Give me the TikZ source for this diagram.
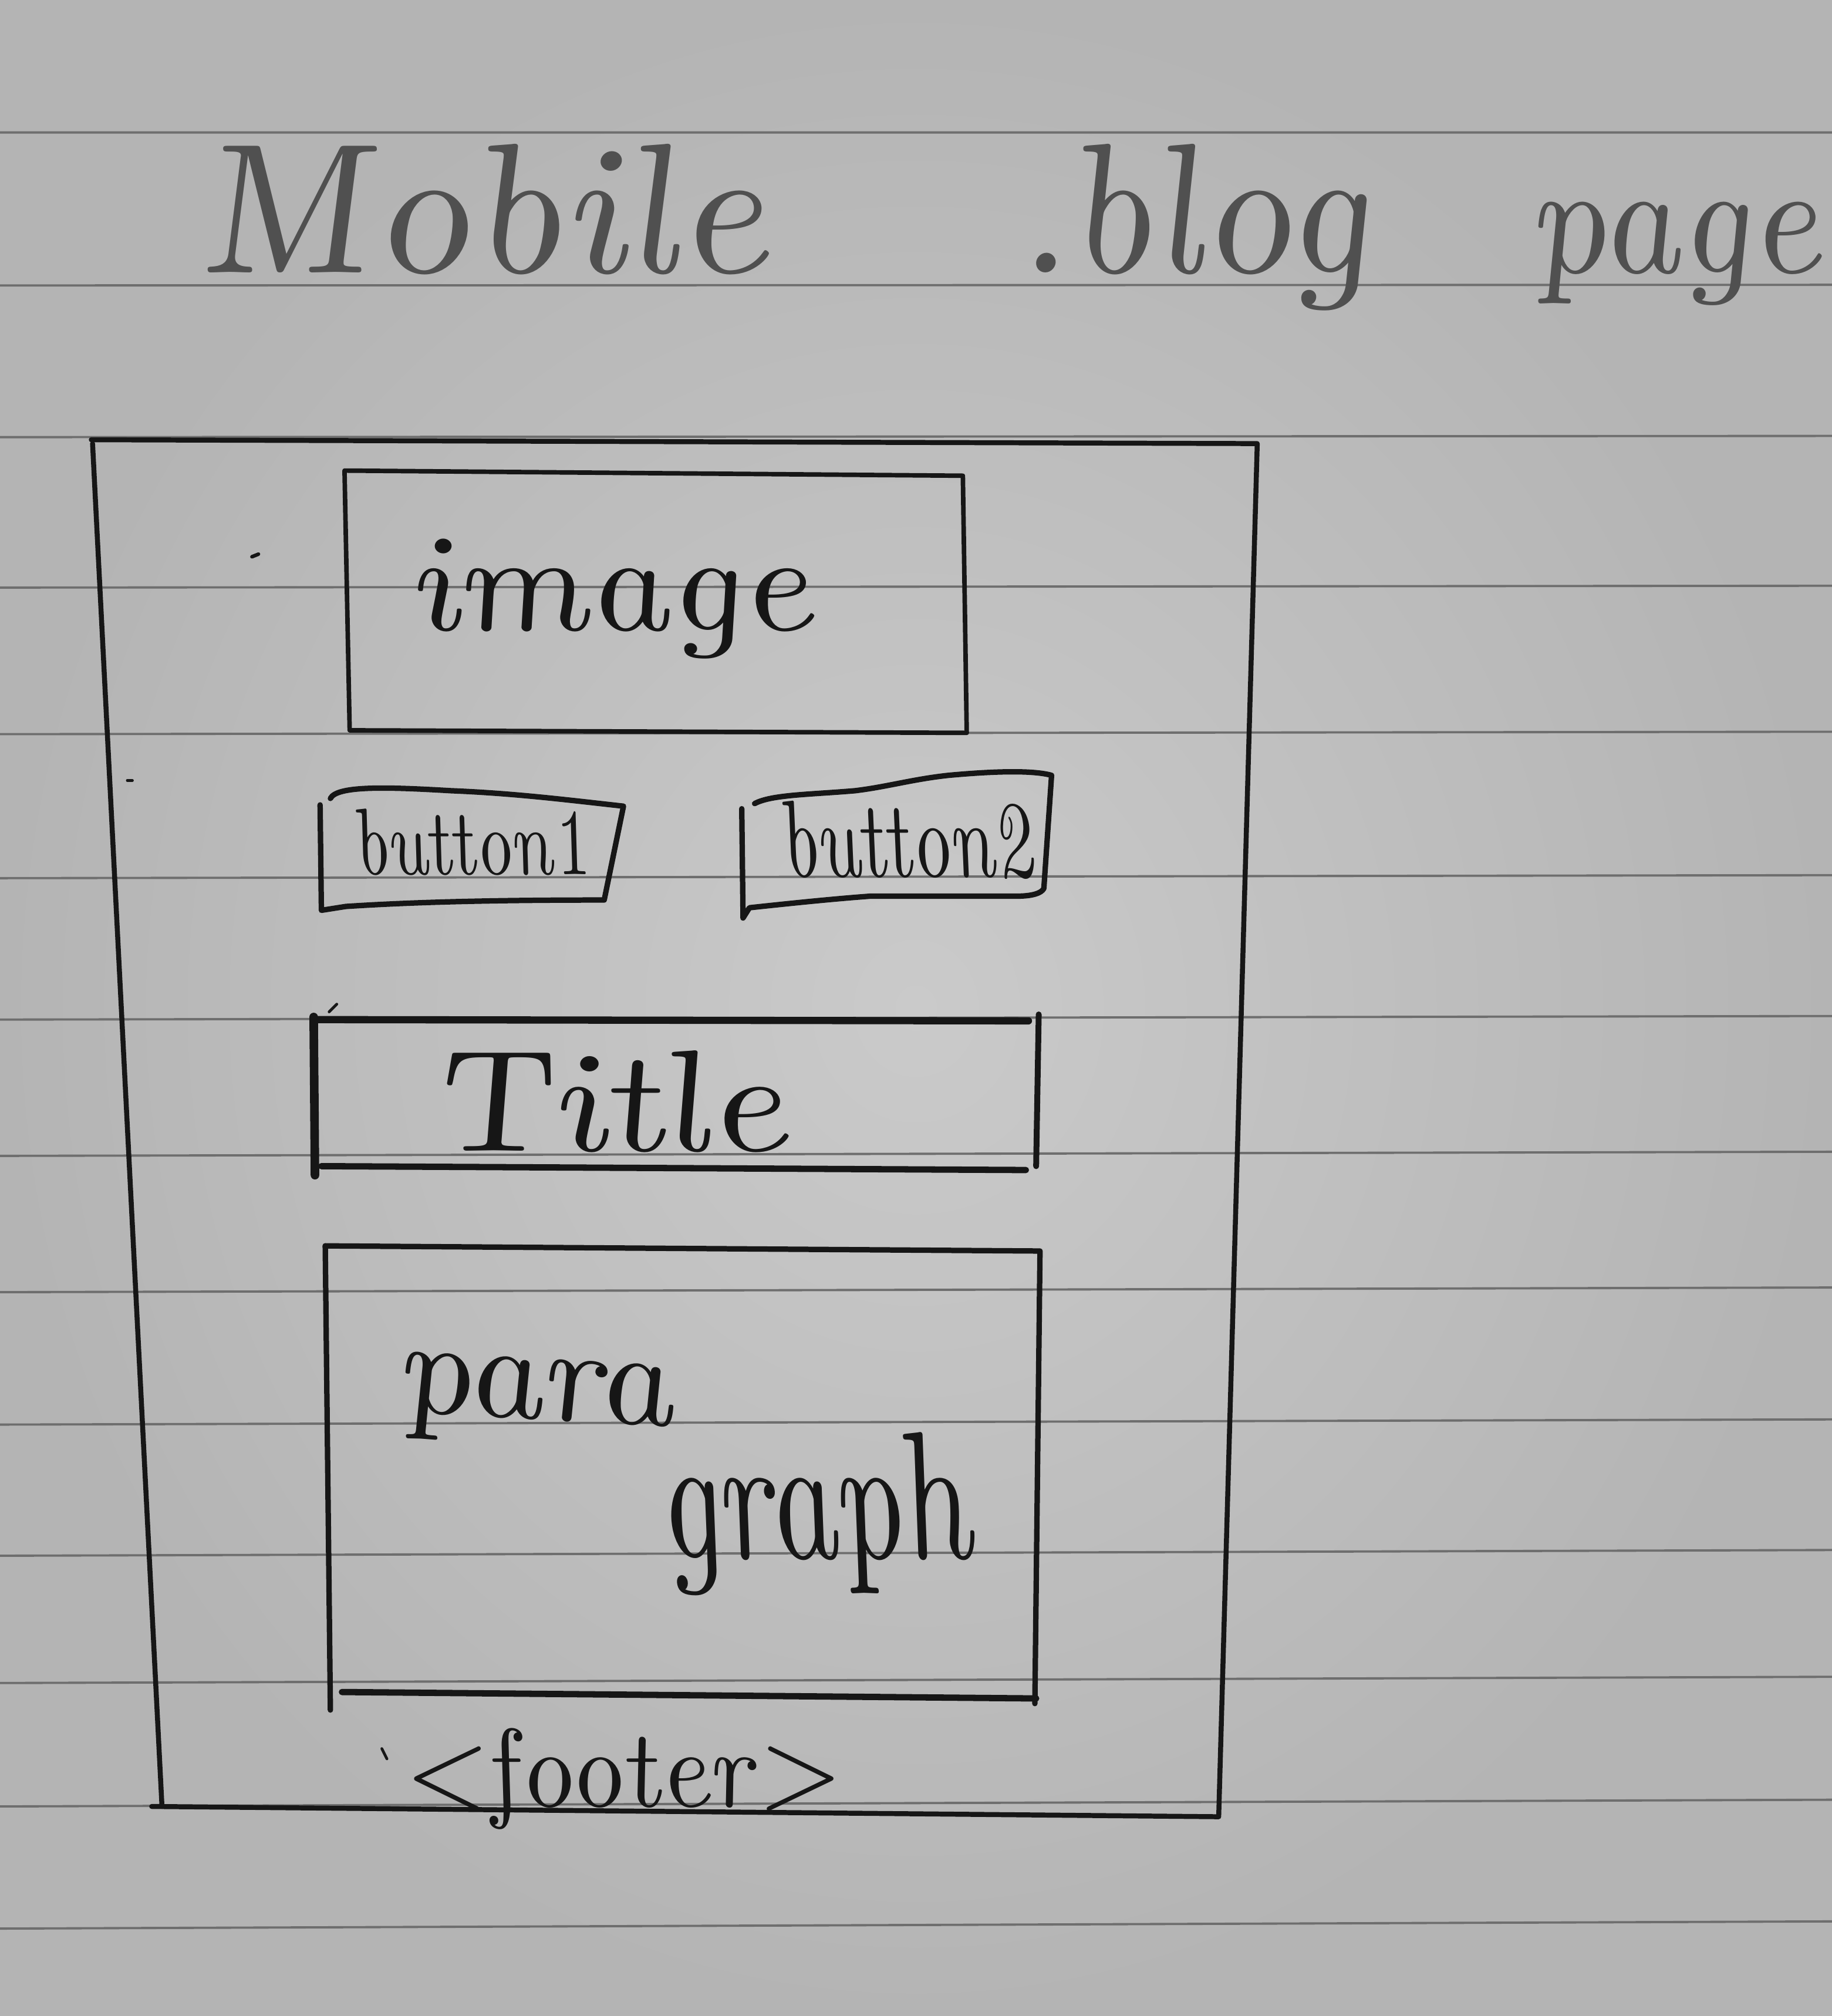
\documentclass[tikz,border=0pt]{standalone}
\usepackage{graphicx}
\definecolor{paperin}{HTML}{CACACA}
\definecolor{paperout}{HTML}{B4B4B4}
\definecolor{rulegray}{HTML}{6E6E6E}
\definecolor{inkblack}{HTML}{161616}
\definecolor{pencilgray}{HTML}{505050}
% cursive-looking face: Latin Modern italic, straightened by the node style
\newcommand{\handfont}{\usefont{TU}{lmr}{m}{it}}
% a word squeezed into a given width and height (cm)
\newcommand{\handword}[3]{\resizebox{#1cm}{#2cm}{\handfont #3}}
\begin{document}
\begin{tikzpicture}[x=0.01cm,y=-0.01cm,line cap=round,line join=round]
\tikzset{
  ruling/.style={draw=rulegray,line width=0.5pt},
  ink/.style={draw=inkblack,line width=1.1pt},
  heavyink/.style={draw=inkblack,line width=1.6pt},
  hand/.style={inner sep=0pt,outer sep=0pt,anchor=base west,text=inkblack,
               xslant=-0.22,transform shape},
  pencil/.style={hand,text=pencilgray,xslant=0.08},
}
\useasboundingbox (0,0) rectangle (1425,1568);
% paper
\shade[inner color=paperin,outer color=paperout] (0,0) rectangle (1425,1568);
\foreach \yy in {103,222,340,457,571,683,793,899,1005,1108,1210,1309,1405,1500}
  \draw[ruling] (0,\yy) -- (1425,{\yy-0.004*(\yy-100)});

% heading
\node[shift={(152,212)},pencil] (hmobile) at (0,0) {\handword{4.47}{1.0}{Mobile}};
\node[shift={(791,212)},pencil] (hblog) at (0,0) {\handword{2.76}{1.0}{.blog}};
\node[shift={(1192,212)},pencil] (hpage) at (0,0) {\handword{2.26}{0.55}{page}};

% phone frame
\draw[ink] (71,342) -- (978,345) -- (948,1413) -- (118,1405);
\draw[ink] (72,345) -- (126,1405);

% image box
\draw[ink,line width=1.0pt] (268,366) -- (749,370) -- (752,570) -- (272,568) -- cycle;
\node[shift={(322,490)},hand] (limage) at (0,0) {\handword{3.13}{0.71}{image}};

% buttons
\draw[ink,line width=1.2pt] (249,626) -- (250,708) -- (269,705)
  .. controls (330,701) and (400,700) .. (470,700) -- (485,627)
  .. controls (440,622) and (400,617) .. (351,615)
  .. controls (300,612) and (262,611) .. (257,621);
\node[shift={(279,680)},hand] (lbtnA) at (0,0) {\handword{1.82}{0.51}{button1}};

\draw[ink,line width=1.2pt] (577,629) -- (578,714) -- (583,706)
  .. controls (620,702) and (650,699) .. (677,697) -- (791,697)
  .. controls (802,697) and (810,695) .. (812,691) -- (818,603)
  .. controls (800,598) and (760,601) .. (738,603)
  .. controls (710,606) and (690,612) .. (665,615)
  .. controls (630,618) and (600,618) .. (587,625);
\node[shift={(612,682)},hand] (lbtnB) at (0,0) {\handword{1.95}{0.59}{button2}};

% title box
\draw[heavyink,line width=1.9pt] (244,791) -- (245,914);
\draw[heavyink] (246,793) -- (800,794);
\draw[ink,line width=1.3pt] (808,789) -- (806,907);
\draw[heavyink,line width=1.4pt] (250,907) -- (798,910);
\node[shift={(336,895)},hand] (ltitle) at (0,0) {\handword{2.79}{0.78}{Title}};

% paragraph box
\draw[ink,line width=1.2pt] (253,969) -- (257,1330);
\draw[ink,line width=1.2pt] (253,969) -- (809,973) -- (805,1325);
\draw[heavyink,line width=1.4pt] (266,1316) -- (806,1321);
\node[shift={(311,1098)},rotate=-3,hand] (lparaA) at (0,0) {\handword{2.14}{0.47}{para}};
\node[shift={(517,1212)},hand] (lparaB) at (0,0) {\handword{2.43}{0.98}{graph}};

% footer
\node[shift={(315,1405)},hand] (lfooter) at (0,0) {\handword{3.40}{0.61}{<footer>}};

% stray pen marks
\draw[inkblack,line width=0.8pt] (196,433) -- (201,431);
\draw[inkblack,line width=0.6pt] (99,607) -- (103,607);
\draw[inkblack,line width=0.6pt] (256,787) -- (262,781);
\draw[inkblack,line width=0.6pt] (297,1360) -- (301,1368);
\end{tikzpicture}
\end{document}
